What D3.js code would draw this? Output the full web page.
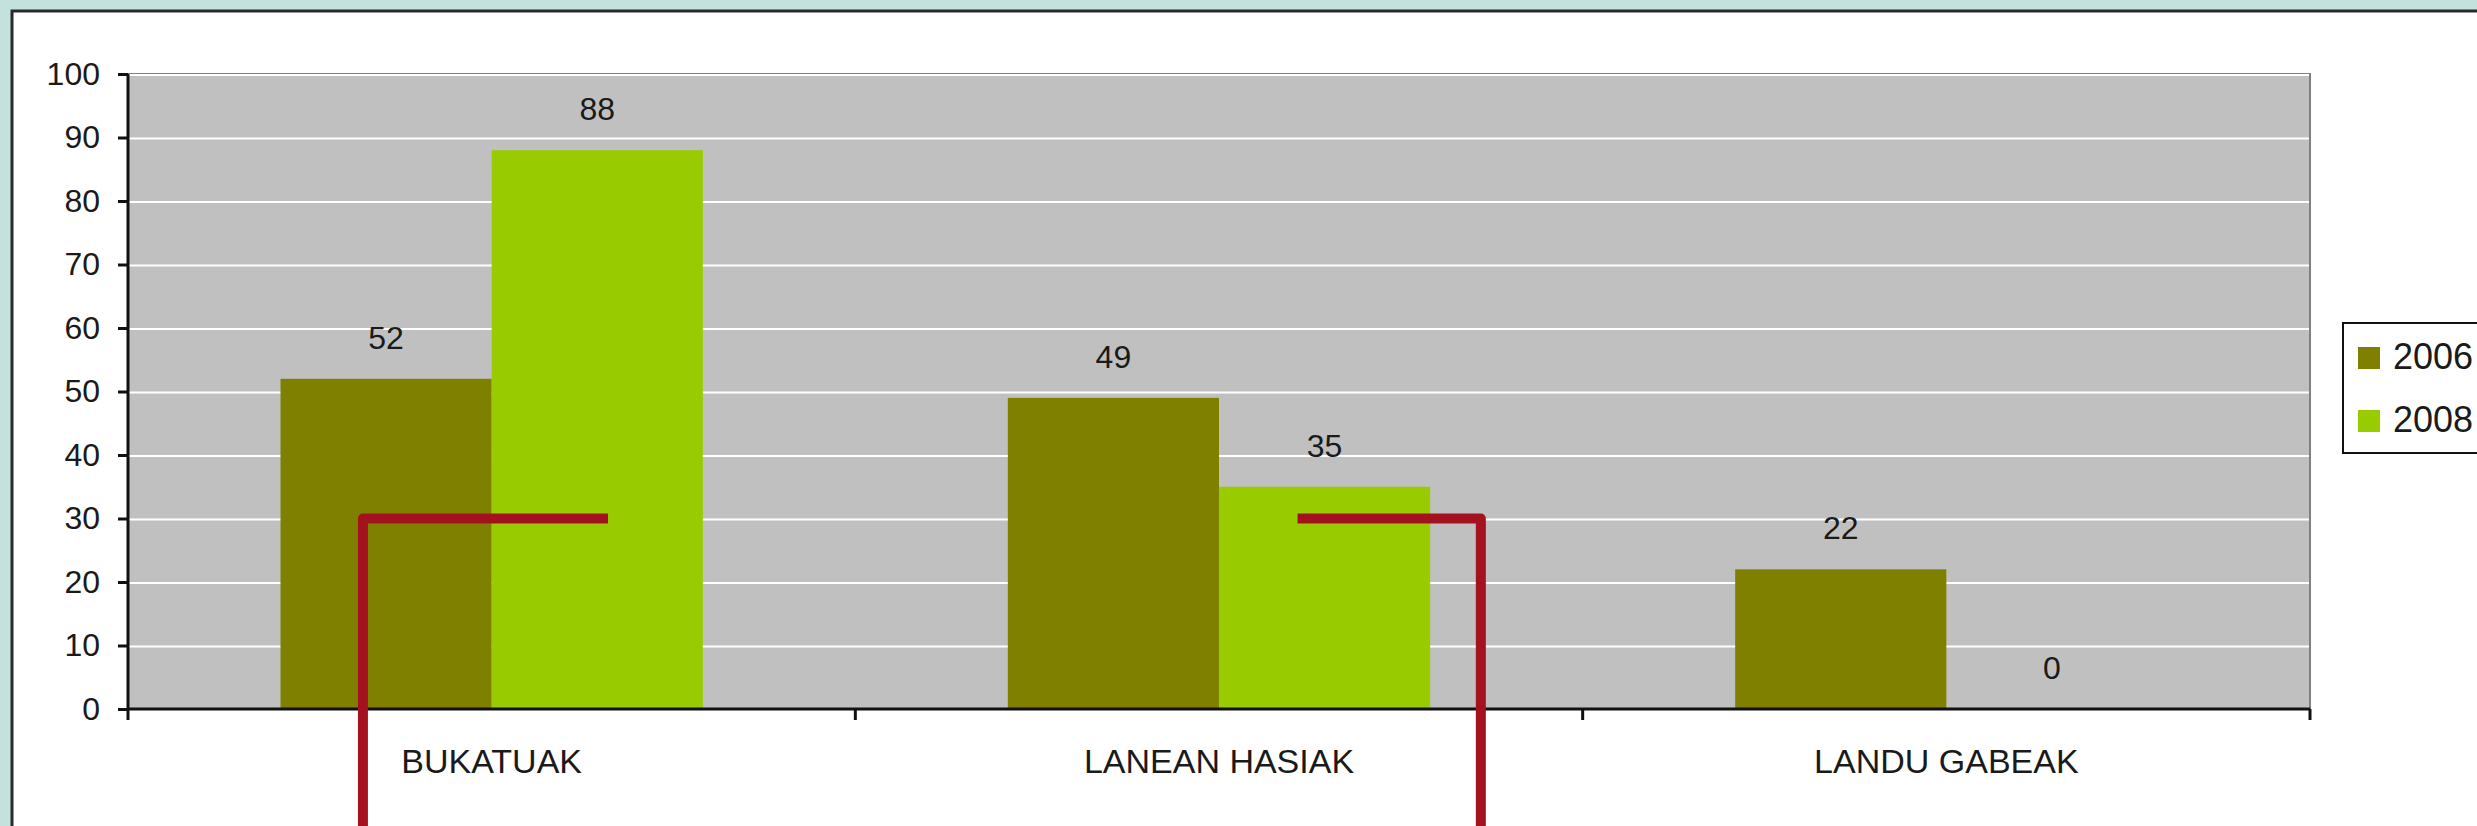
<!DOCTYPE html>
<html>
<head>
<meta charset="utf-8">
<script src="https://cdn.jsdelivr.net/npm/d3@7"></script>
<style>
	html, body { margin: 0; padding: 0; background: #c4e2dd; overflow: hidden; }
	svg { display: block; font-family: 'Liberation Sans', Arial, sans-serif; }
</style>
</head>
<body>
<svg id="chart"></svg>
<script>
// data
const categories = ['BUKATUAK', 'LANEAN HASIAK', 'LANDU GABEAK'];
const series = ['2006', '2008'];
const values2006 = [52, 49, 22];
const values2008 = [88, 35, 0];
const yTicks = [0, 10, 20, 30, 40, 50, 60, 70, 80, 90, 100];
const colors = ['#808000', '#99cc00'];

// red marker lines drawn over the chart (category, start/end as part of band, value level)
const markCategories = ['BUKATUAK', 'LANEAN HASIAK'];
const markLevel = 30;
const markVertical = [0.323, 0.86];
const markHorizontalEnd = [0.66, 0.608];

const totalWidth = 2477,
	totalHeight = 826,
	margin = { top: 74, right: 167, bottom: 117, left: 128 },
	width = totalWidth - margin.left - margin.right, // 2182
	height = totalHeight - margin.top - margin.bottom; // 635

const svg = d3.select('#chart').attr('width', totalWidth).attr('height', totalHeight);

// teal page + white frame
svg.append('rect').attr('width', totalWidth).attr('height', totalHeight).attr('fill', '#c4e2dd');
svg
	.append('rect')
	.attr('x', 12)
	.attr('y', 11)
	.attr('width', totalWidth + 20)
	.attr('height', totalHeight + 20)
	.attr('fill', '#ffffff')
	.attr('stroke', '#2a2a2a')
	.attr('stroke-width', 3);

const display = svg.append('g').attr('transform', 'translate(' + margin.left + ',' + margin.top + ')');

const xScale = d3.scaleBand().domain(categories).range([0, width]).padding(0);
const gap = 152.5;
const xInner = d3.scaleBand().domain(series).range([gap, xScale.bandwidth() - gap]).padding(0);
const yScale = d3.scaleLinear().domain([0, 100]).range([height, 0]);

// plot background
display
	.append('rect')
	.attr('width', width)
	.attr('height', height)
	.attr('fill', '#c0c0c0')
	.attr('stroke', '#808080')
	.attr('stroke-width', 2);

// gridlines
display
	.selectAll('.grid')
	.data(yTicks.filter((d) => d > 0))
	.enter()
	.append('line')
	.attr('x1', 0)
	.attr('x2', width - 1)
	.attr('y1', (d) => yScale(d) + 1)
	.attr('y2', (d) => yScale(d) + 1)
	.attr('stroke', '#ffffff')
	.attr('stroke-width', 2);

// bars
const rows = categories.map((c, i) => ({ cat: c, vals: [values2006[i], values2008[i]] }));
const group = display
	.selectAll('.cat')
	.data(rows)
	.enter()
	.append('g')
	.attr('transform', (d) => 'translate(' + xScale(d.cat) + ',0)');

group
	.selectAll('rect')
	.data((d) => d.vals.map((v, j) => ({ key: series[j], v: v, j: j })))
	.enter()
	.append('rect')
	.attr('x', (d) => xInner(d.key))
	.attr('width', xInner.bandwidth())
	.attr('y', (d) => yScale(d.v))
	.attr('height', (d) => height - yScale(d.v))
	.attr('fill', (d) => colors[d.j]);

// value labels
group
	.selectAll('text')
	.data((d) => d.vals.map((v, j) => ({ key: series[j], v: v })))
	.enter()
	.append('text')
	.attr('x', (d) => xInner(d.key) + xInner.bandwidth() / 2)
	.attr('y', (d) => yScale(d.v) - 30)
	.attr('text-anchor', 'middle')
	.style('font-size', '32px')
	.attr('fill', '#1a1a1a')
	.text((d) => d.v);

// y axis
const yAxis = d3.axisLeft(yScale).tickValues(yTicks).tickSize(10).tickPadding(18);
const yG = display.append('g').attr('id', 'y-axis').call(yAxis);
yG.select('.domain').attr('stroke', '#111').attr('stroke-width', 3).attr('d', 'M0,0V' + height);
yG.selectAll('.tick line').attr('stroke', '#111').attr('stroke-width', 3);
yG.selectAll('.tick text').style('font-size', '32px').attr('fill', '#1a1a1a');

// x axis, ticks between categories like the original
const xAxis = d3.axisBottom(xScale).tickSize(0);
const xG = display
	.append('g')
	.attr('id', 'x-axis')
	.attr('transform', 'translate(0,' + height + ')')
	.call(xAxis);
xG.select('.domain').attr('stroke', '#111').attr('stroke-width', 3).attr('d', 'M0,0H' + width);
xG.selectAll('.tick text')
	.attr('y', 64)
	.attr('dy', 0)
	.style('font-size', '34px')
	.attr('fill', '#1a1a1a');
xG.selectAll('.bound')
	.data(categories.map((c) => xScale(c)).concat([width]))
	.enter()
	.append('line')
	.attr('x1', (d) => d)
	.attr('x2', (d) => d)
	.attr('y1', 0)
	.attr('y2', 11)
	.attr('stroke', '#111')
	.attr('stroke-width', 3);

// red marker lines
markCategories.forEach((c, i) => {
	const bx = xScale(c);
	const bw = xScale.bandwidth();
	const yLev = yScale(markLevel);
	const xv = bx + bw * markVertical[i];
	const xh = bx + bw * markHorizontalEnd[i];
	display
		.append('path')
		.attr('d', 'M' + xh + ',' + yLev + 'H' + xv + 'V' + (totalHeight + 20))
		.attr('fill', 'none')
		.attr('stroke', '#a5121f')
		.attr('stroke-width', 10)
		.attr('stroke-linejoin', 'round');
});

// legend
const legend = svg.append('g').attr('transform', 'translate(2343,323)');
legend
	.append('rect')
	.attr('width', 200)
	.attr('height', 130)
	.attr('fill', '#ffffff')
	.attr('stroke', '#111')
	.attr('stroke-width', 2);
const item = legend
	.selectAll('.item')
	.data(series)
	.enter()
	.append('g')
	.attr('transform', (d, i) => 'translate(15,' + (24 + i * 63) + ')');
item
	.append('rect')
	.attr('width', 22)
	.attr('height', 22)
	.attr('fill', (d, i) => colors[i]);
item
	.append('text')
	.attr('x', 35)
	.attr('y', 22)
	.style('font-size', '36px')
	.attr('fill', '#1a1a1a')
	.text((d) => d);
</script>
</body>
</html>
